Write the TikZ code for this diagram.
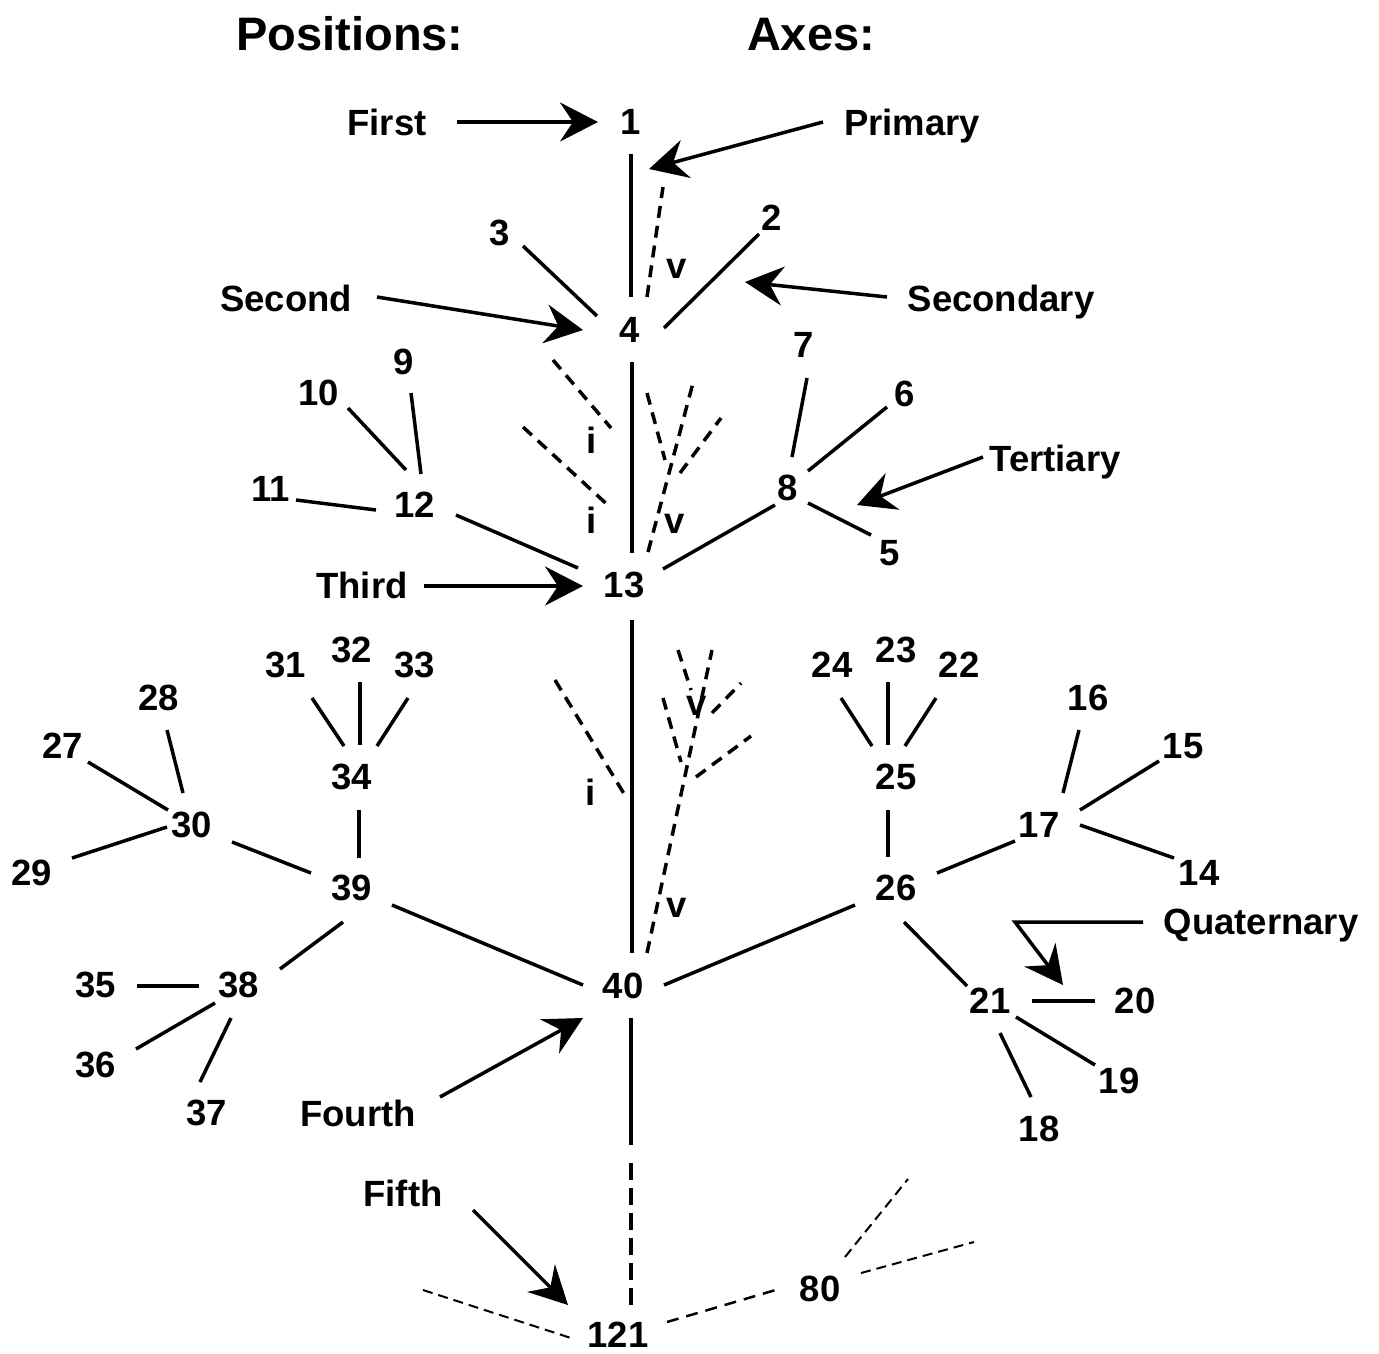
\documentclass[tikz,border=0pt]{standalone}
\usepackage{fontspec}
\setmainfont{Liberation Sans}
\usetikzlibrary{arrows.meta,calc}
\begin{document}
\begin{tikzpicture}[x=1pt,y=-1pt,
  lbl/.style={inner sep=0pt, anchor=base, font=\fontsize{36.5pt}{40pt}\selectfont\bfseries},
  num/.style={inner sep=0pt, font=\fontsize{36.5pt}{40pt}\selectfont\bfseries},
  hdr/.style={inner sep=0pt, anchor=base, font=\fontsize{47pt}{52pt}\selectfont\bfseries},
  edge/.style={line width=3.5pt},
  dsh/.style={line width=3.5pt, dash pattern=on 12pt off 8pt},
  dshlong/.style={line width=3.5pt, dash pattern=on 17pt off 8pt},
  thindash/.style={line width=2pt, dash pattern=on 10pt off 6pt},
  arr/.style={line width=3.5pt, -{Stealth[length=38pt,width=39pt,inset=13pt]}},
]
\useasboundingbox (0,0) rectangle (1379,1353);

% headers
\node[hdr] (hpos) at (350,50) {Positions:};
\node[hdr] (haxes) at (811,50) {Axes:};

% word labels
\node[lbl] (First) at (387,135) {First};
\node[lbl] (Primary) at (912,135) {Primary};
\node[lbl] (Second) at (286,311) {Second};
\node[lbl] (Secondary) at (1001,311) {Secondary};
\node[lbl] (Tertiary) at (1055,471) {Tertiary};
\node[lbl] (Third) at (362,598) {Third};
\node[lbl] (Quat) at (1261,934) {Quaternary};
\node[lbl] (Fourth) at (358,1126) {Fourth};
\node[lbl] (Fifth) at (403,1206) {Fifth};

% small letters
\node[lbl] (v1) at (677,278) {v};
\node[lbl] (i1) at (592,453) {i};
\node[lbl] (i2) at (592,533) {i};
\node[lbl] (v2) at (675,533) {v};
\node[lbl] (v3) at (697,715) {v};
\node[lbl] (i3) at (591,805) {i};
\node[lbl] (v4) at (677,917) {v};

% numbers
\node[num] (n1) at (631,122) {1};
\node[num] (n2) at (772,218) {2};
\node[num] (n3) at (500,233) {3};
\node[num] (n4) at (630,330) {4};
\node[num] (n5) at (890,553) {5};
\node[num] (n6) at (905,394) {6};
\node[num] (n7) at (804,345) {7};
\node[num] (n8) at (788,488) {8};
\node[num] (n9) at (404,362) {9};
\node[num] (n10) at (319,393) {10};
\node[num] (n11) at (271,489) {11};
\node[num] (n12) at (415,505) {12};
\node[num] (n13) at (624,585) {13};
\node[num] (n14) at (1199,873) {14};
\node[num] (n15) at (1183,746) {15};
\node[num] (n16) at (1088,698) {16};
\node[num] (n17) at (1039,825) {17};
\node[num] (n18) at (1039,1129) {18};
\node[num] (n19) at (1119,1081) {19};
\node[num] (n20) at (1135,1001) {20};
\node[num] (n21) at (990,1001) {21};
\node[num] (n22) at (959,665) {22};
\node[num] (n23) at (896,650) {23};
\node[num] (n24) at (832,665) {24};
\node[num] (n25) at (896,777) {25};
\node[num] (n26) at (896,888) {26};
\node[num] (n27) at (63,746) {27};
\node[num] (n28) at (159,698) {28};
\node[num] (n29) at (32,873) {29};
\node[num] (n30) at (192,825) {30};
\node[num] (n31) at (286,665) {31};
\node[num] (n32) at (352,650) {32};
\node[num] (n33) at (415,665) {33};
\node[num] (n34) at (352,777) {34};
\node[num] (n35) at (96,985) {35};
\node[num] (n36) at (96,1065) {36};
\node[num] (n37) at (207,1113) {37};
\node[num] (n38) at (239,985) {38};
\node[num] (n39) at (352,888) {39};
\node[num] (n40) at (623,986) {40};
\node[num] (n80) at (820,1289) {80};
\node[num] (n121) at (618,1335) {121};

% free coordinates
\coordinate (pv1) at (663,187);
\coordinate (i1a) at (553,360); \coordinate (i1b) at (611,428);
\coordinate (i2a) at (523,427); \coordinate (i2b) at (611,508);
\coordinate (v2top) at (693,383);
\coordinate (v2la) at (647,393); \coordinate (v2lb) at (665,460);
\coordinate (v2ra) at (680,473); \coordinate (v2rb) at (721,418);
\coordinate (i3a) at (555,680); \coordinate (i3b) at (626,797);
\coordinate (v3top) at (712,650);
\coordinate (v3la) at (663,698); \coordinate (v3lb) at (681,762);
\coordinate (v3ra) at (696,777); \coordinate (v3rb) at (751,736);
\coordinate (v3ula) at (678,650); \coordinate (v3ulb) at (691,690);
\coordinate (v3ura) at (712,713); \coordinate (v3urb) at (741,683);
\coordinate (c40b) at (631,1145);
\coordinate (c121t) at (631,1163);
\coordinate (l121) at (423,1290);
\coordinate (t80a) at (908,1179);
\coordinate (t80b) at (974,1242);
\coordinate (tPrim) at (649,169);
\coordinate (tSecd) at (745,282);
\coordinate (tTert) at (857,505);
\coordinate (qcorner) at (1015,922);
\coordinate (qtip) at (1063,985);

% top part
\draw[edge] ($(n1)+(0,32)$) -- ($(n4)+(1,-33)$);
\draw[dsh] ($(n4)+(17,-33)$) -- (pv1);
\draw[edge] ($(n3)+(23,13)$) -- ($(n4)+(-33,-14)$);
\draw[edge] ($(n2)+(-13,16)$) -- ($(n4)+(34,-2)$);
\draw[edge] ($(n4)+(2,32)$) -- ($(n13)+(8,-32)$);
\draw[dsh] (i1a) -- (i1b);
\draw[dsh] (i2a) -- (i2b);
\draw[dsh] ($(n13)+(24,-33)$) -- (v2top);
\draw[dsh] (v2la) -- (v2lb);
\draw[dsh] (v2ra) -- (v2rb);
\draw[edge] ($(n12)+(41,10)$) -- ($(n13)+(-46,-17)$);
\draw[edge] ($(n10)+(29,15)$) -- ($(n12)+(-9,-35)$);
\draw[edge] ($(n9)+(7,31)$) -- ($(n12)+(6,-31)$);
\draw[edge] ($(n11)+(25,11)$) -- ($(n12)+(-39,5)$);
\draw[edge] ($(n13)+(39,-16)$) -- ($(n8)+(-13,17)$);
\draw[edge] ($(n7)+(3,33)$) -- ($(n8)+(4,-31)$);
\draw[edge] ($(n6)+(-18,13)$) -- ($(n8)+(20,-17)$);
\draw[edge] ($(n8)+(20,15)$) -- ($(n5)+(-19,-18)$);

% middle
\draw[edge] ($(n13)+(8,35)$) -- ($(n40)+(9,-33)$);
\draw[dsh] ($(n40)+(24,-33)$) -- (v3top);
\draw[dsh] (v3la) -- (v3lb);
\draw[dsh] (v3ra) -- (v3rb);
\draw[dsh] (v3ula) -- (v3ulb);
\draw[dsh] (v3ura) -- (v3urb);
\draw[dsh] (i3a) -- (i3b);
\draw[edge] ($(n39)+(40,17)$) -- ($(n40)+(-40,-1)$);
\draw[edge] ($(n40)+(41,-1)$) -- ($(n26)+(-41,17)$);

% left cluster
\draw[edge] ($(n30)+(40,17)$) -- ($(n39)+(-41,-15)$);
\draw[edge] ($(n28)+(8,32)$) -- ($(n30)+(-9,-32)$);
\draw[edge] ($(n27)+(25,16)$) -- ($(n30)+(-24,-15)$);
\draw[edge] ($(n29)+(40,-15)$) -- ($(n30)+(-25,2)$);
\draw[edge] ($(n31)+(26,33)$) -- ($(n34)+(-8,-31)$);
\draw[edge] ($(n32)+(8,32)$) -- ($(n34)+(8,-32)$);
\draw[edge] ($(n33)+(-7,33)$) -- ($(n34)+(25,-31)$);
\draw[edge] ($(n34)+(7,33)$) -- ($(n39)+(7,-30)$);
\draw[edge] ($(n39)+(-9,34)$) -- ($(n38)+(41,-16)$);
\draw[edge] ($(n35)+(41,1)$) -- ($(n38)+(-40,1)$);
\draw[edge] ($(n36)+(40,-16)$) -- ($(n38)+(-24,18)$);
\draw[edge] ($(n37)+(-7,-31)$) -- ($(n38)+(-8,33)$);

% right cluster
\draw[edge] ($(n24)+(9,33)$) -- ($(n25)+(-24,-31)$);
\draw[edge] ($(n23)+(-8,32)$) -- ($(n25)+(-8,-32)$);
\draw[edge] ($(n22)+(-23,33)$) -- ($(n25)+(9,-31)$);
\draw[edge] ($(n25)+(-8,33)$) -- ($(n26)+(-8,-31)$);
\draw[edge] ($(n26)+(41,-15)$) -- ($(n17)+(-24,16)$);
\draw[edge] ($(n16)+(-9,32)$) -- ($(n17)+(24,-32)$);
\draw[edge] ($(n15)+(-24,15)$) -- ($(n17)+(41,-15)$);
\draw[edge] ($(n14)+(-25,-15)$) -- ($(n17)+(41,0)$);
\draw[edge] ($(n26)+(8,34)$) -- ($(n21)+(-23,-15)$);
\draw[edge] ($(n21)+(42,0)$) -- ($(n20)+(-40,0)$);
\draw[edge] ($(n21)+(26,16)$) -- ($(n19)+(-24,-16)$);
\draw[edge] ($(n21)+(10,32)$) -- ($(n18)+(-8,-32)$);

% bottom
\draw[edge] ($(n40)+(8,32)$) -- (c40b);
\draw[dshlong] (c121t) -- ($(n121)+(13,-30)$);
\draw[thindash] (l121) -- ($(n121)+(-47,3)$);
\draw[dsh, line width=2.5pt] ($(n121)+(49,-13)$) -- ($(n80)+(-41,0)$);
\draw[thindash] ($(n80)+(25,-32)$) -- (t80a);
\draw[thindash] ($(n80)+(41,-16)$) -- (t80b);

% arrows
\draw[arr] ($(First.base)+(70,-13)$) -- ($(n1)+(-33,0)$);
\draw[arr] ($(Primary.base)+(-89,-13)$) -- (tPrim);
\draw[arr] ($(Second.base)+(91,-14)$) -- ($(n4)+(-47,0)$);
\draw[arr] ($(Secondary.base)+(-114,-14)$) -- (tSecd);
\draw[arr] ($(Tertiary.base)+(-72,-14)$) -- (tTert);
\draw[arr] ($(Third.base)+(62,-12)$) -- ($(n13)+(-41,1)$);
\draw[arr] ($(Quat.base)+(-118,-12)$) -- (qcorner) -- (qtip);
\draw[arr] ($(Fourth.base)+(82,-29)$) -- ($(n40)+(-40,32)$);
\draw[arr] ($(Fifth.base)+(70,4)$) -- ($(n121)+(-50,-30)$);
\end{tikzpicture}
\end{document}
